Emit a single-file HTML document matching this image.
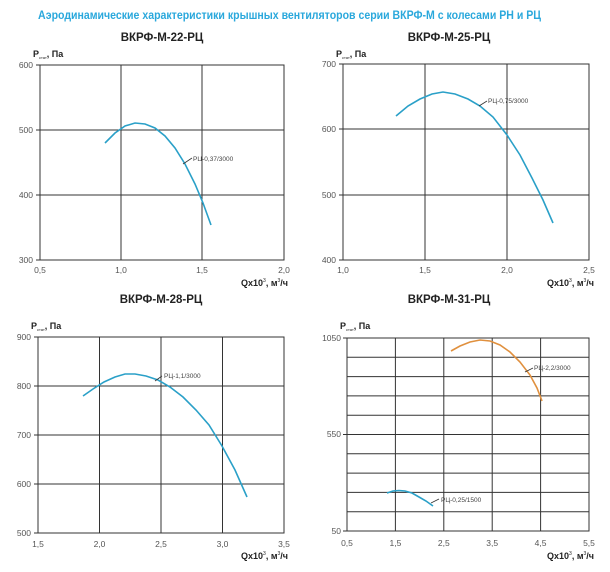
<!DOCTYPE html>
<html><head><meta charset="utf-8"><style>
html,body{margin:0;padding:0;background:#fff;}
svg{display:block;font-family:"Liberation Sans",Arial,sans-serif;}
.t{font-size:8.5px;fill:#555;}
.ttl{font-size:11.5px;font-weight:bold;fill:#222;}
.ax{font-size:9px;font-weight:bold;fill:#222;}
.sub{font-size:4px;font-weight:normal;}
.sup{font-size:5px;font-weight:normal;}
.g{stroke:#333;stroke-width:1;fill:none;}
.lb{font-size:6.5px;fill:#444;}
.cb{fill:none;stroke:#2aa0c8;stroke-width:1.6;}
.co{fill:none;stroke:#e0903e;stroke-width:1.6;}
</style></head><body>
<svg width="610" height="572" viewBox="0 0 610 572" xmlns="http://www.w3.org/2000/svg">
<text x="38" y="19" font-size="11.5" font-weight="bold" fill="#2aa8dc" textLength="503" lengthAdjust="spacingAndGlyphs">Аэродинамические характеристики крышных вентиляторов серии ВКРФ-М с колесами РН и РЦ</text>

<!-- Chart 1 -->
<text class="ttl" x="162" y="41" text-anchor="middle">ВКРФ-М-22-РЦ</text>
<text class="ax" x="33" y="57">P<tspan class="sub" dy="2">стат</tspan><tspan dy="-2">, Па</tspan></text>
<g class="g">
<rect x="40" y="65" width="244" height="195"/>
<line x1="121" y1="65" x2="121" y2="260"/><line x1="202" y1="65" x2="202" y2="260"/>
<line x1="40" y1="130" x2="284" y2="130"/><line x1="40" y1="195" x2="284" y2="195"/>
<line x1="36" y1="65" x2="40" y2="65"/><line x1="36" y1="130" x2="40" y2="130"/><line x1="36" y1="195" x2="40" y2="195"/><line x1="36" y1="260" x2="40" y2="260"/>
</g>
<text class="t" x="33" y="68" text-anchor="end">600</text>
<text class="t" x="33" y="133" text-anchor="end">500</text>
<text class="t" x="33" y="198" text-anchor="end">400</text>
<text class="t" x="33" y="263" text-anchor="end">300</text>
<text class="t" x="40" y="273" text-anchor="middle">0,5</text>
<text class="t" x="121" y="273" text-anchor="middle">1,0</text>
<text class="t" x="202" y="273" text-anchor="middle">1,5</text>
<text class="t" x="284" y="273" text-anchor="middle">2,0</text>
<text class="ax" x="288" y="286" text-anchor="end">Qx10<tspan class="sup" dy="-4">3</tspan><tspan dy="4">, м</tspan><tspan class="sup" dy="-4">3</tspan><tspan dy="4">/ч</tspan></text>
<polyline class="cb" points="105,143 115,133 125,126 135,123 145,124 155,128 165,136 175,148 185,164 195,184 203,203 211,225"/>
<line x1="183" y1="164" x2="192" y2="158" stroke="#333" stroke-width="0.8"/>
<text class="lb" x="193" y="161">РЦ-0,37/3000</text>

<!-- Chart 2 -->
<text class="ttl" x="449" y="41" text-anchor="middle">ВКРФ-М-25-РЦ</text>
<text class="ax" x="336" y="57">P<tspan class="sub" dy="2">стат</tspan><tspan dy="-2">, Па</tspan></text>
<g class="g">
<rect x="343" y="64" width="246" height="196"/>
<line x1="425" y1="64" x2="425" y2="260"/><line x1="507" y1="64" x2="507" y2="260"/>
<line x1="343" y1="129" x2="589" y2="129"/><line x1="343" y1="195" x2="589" y2="195"/>
<line x1="339" y1="64" x2="343" y2="64"/><line x1="339" y1="129" x2="343" y2="129"/><line x1="339" y1="195" x2="343" y2="195"/><line x1="339" y1="260" x2="343" y2="260"/>
</g>
<text class="t" x="336" y="67" text-anchor="end">700</text>
<text class="t" x="336" y="132" text-anchor="end">600</text>
<text class="t" x="336" y="198" text-anchor="end">500</text>
<text class="t" x="336" y="263" text-anchor="end">400</text>
<text class="t" x="343" y="273" text-anchor="middle">1,0</text>
<text class="t" x="425" y="273" text-anchor="middle">1,5</text>
<text class="t" x="507" y="273" text-anchor="middle">2,0</text>
<text class="t" x="589" y="273" text-anchor="middle">2,5</text>
<text class="ax" x="594" y="286" text-anchor="end">Qx10<tspan class="sup" dy="-4">3</tspan><tspan dy="4">, м</tspan><tspan class="sup" dy="-4">3</tspan><tspan dy="4">/ч</tspan></text>
<polyline class="cb" points="396,116 408,106 420,99 432,94 443,92 455,94 468,99 480,106 493,117 507,135 520,155 532,178 543,200 553,223"/>
<line x1="479" y1="106" x2="487" y2="101" stroke="#333" stroke-width="0.8"/>
<text class="lb" x="488" y="103">РЦ-0,75/3000</text>

<!-- Chart 3 -->
<text class="ttl" x="161" y="303" text-anchor="middle">ВКРФ-М-28-РЦ</text>
<text class="ax" x="31" y="329">P<tspan class="sub" dy="2">стат</tspan><tspan dy="-2">, Па</tspan></text>
<g class="g">
<rect x="38" y="337" width="246" height="196"/>
<line x1="99.5" y1="337" x2="99.5" y2="533"/><line x1="161" y1="337" x2="161" y2="533"/><line x1="222.5" y1="337" x2="222.5" y2="533"/>
<line x1="38" y1="386" x2="284" y2="386"/><line x1="38" y1="435" x2="284" y2="435"/><line x1="38" y1="484" x2="284" y2="484"/>
<line x1="34" y1="337" x2="38" y2="337"/><line x1="34" y1="386" x2="38" y2="386"/><line x1="34" y1="435" x2="38" y2="435"/><line x1="34" y1="484" x2="38" y2="484"/><line x1="34" y1="533" x2="38" y2="533"/>
</g>
<text class="t" x="31" y="340" text-anchor="end">900</text>
<text class="t" x="31" y="389" text-anchor="end">800</text>
<text class="t" x="31" y="438" text-anchor="end">700</text>
<text class="t" x="31" y="487" text-anchor="end">600</text>
<text class="t" x="31" y="536" text-anchor="end">500</text>
<text class="t" x="38" y="547" text-anchor="middle">1,5</text>
<text class="t" x="99.5" y="547" text-anchor="middle">2,0</text>
<text class="t" x="161" y="547" text-anchor="middle">2,5</text>
<text class="t" x="222.5" y="547" text-anchor="middle">3,0</text>
<text class="t" x="284" y="547" text-anchor="middle">3,5</text>
<text class="ax" x="288" y="559" text-anchor="end">Qx10<tspan class="sup" dy="-4">3</tspan><tspan dy="4">, м</tspan><tspan class="sup" dy="-4">3</tspan><tspan dy="4">/ч</tspan></text>
<polyline class="cb" points="83,396 93,389 104,382 115,377 125,374 135,374 146,376 158,380 170,387 183,397 196,410 209,425 222,446 235,470 247,497"/>
<line x1="155" y1="381" x2="162" y2="376" stroke="#333" stroke-width="0.8"/>
<text class="lb" x="164" y="378">РЦ-1,1/3000</text>

<!-- Chart 4 -->
<text class="ttl" x="449" y="303" text-anchor="middle">ВКРФ-М-31-РЦ</text>
<text class="ax" x="340" y="329">P<tspan class="sub" dy="2">стат</tspan><tspan dy="-2">, Па</tspan></text>
<g class="g">
<rect x="347" y="338" width="242" height="193"/>
<line x1="395.4" y1="338" x2="395.4" y2="531"/><line x1="443.8" y1="338" x2="443.8" y2="531"/><line x1="492.2" y1="338" x2="492.2" y2="531"/><line x1="540.6" y1="338" x2="540.6" y2="531"/>
<line x1="347" y1="357.3" x2="589" y2="357.3"/><line x1="347" y1="376.6" x2="589" y2="376.6"/><line x1="347" y1="395.9" x2="589" y2="395.9"/><line x1="347" y1="415.2" x2="589" y2="415.2"/><line x1="347" y1="434.5" x2="589" y2="434.5"/><line x1="347" y1="453.8" x2="589" y2="453.8"/><line x1="347" y1="473.1" x2="589" y2="473.1"/><line x1="347" y1="492.4" x2="589" y2="492.4"/><line x1="347" y1="511.7" x2="589" y2="511.7"/>
<line x1="343" y1="338" x2="347" y2="338"/><line x1="343" y1="434.5" x2="347" y2="434.5"/><line x1="343" y1="531" x2="347" y2="531"/>
</g>
<text class="t" x="341" y="341" text-anchor="end">1050</text>
<text class="t" x="341" y="437" text-anchor="end">550</text>
<text class="t" x="341" y="534" text-anchor="end">50</text>
<text class="t" x="347" y="546" text-anchor="middle">0,5</text>
<text class="t" x="395.4" y="546" text-anchor="middle">1,5</text>
<text class="t" x="443.8" y="546" text-anchor="middle">2,5</text>
<text class="t" x="492.2" y="546" text-anchor="middle">3,5</text>
<text class="t" x="540.6" y="546" text-anchor="middle">4,5</text>
<text class="t" x="589" y="546" text-anchor="middle">5,5</text>
<text class="ax" x="594" y="559" text-anchor="end">Qx10<tspan class="sup" dy="-4">3</tspan><tspan dy="4">, м</tspan><tspan class="sup" dy="-4">3</tspan><tspan dy="4">/ч</tspan></text>
<polyline class="co" points="451,351 460,346 470,342 480,340 490,341 500,345 510,352 520,362 530,375 537,388 542,401"/>
<line x1="525" y1="372" x2="533" y2="368" stroke="#333" stroke-width="0.8"/>
<text class="lb" x="534" y="370">РЦ-2,2/3000</text>
<polyline class="cb" points="387,493 393,491 399,490.5 405,491 412,493 419,497 426,501 433,506"/>
<line x1="431" y1="503" x2="439" y2="499" stroke="#333" stroke-width="0.8"/>
<text class="lb" x="441" y="502">РЦ-0,25/1500</text>
</svg>
</body></html>
